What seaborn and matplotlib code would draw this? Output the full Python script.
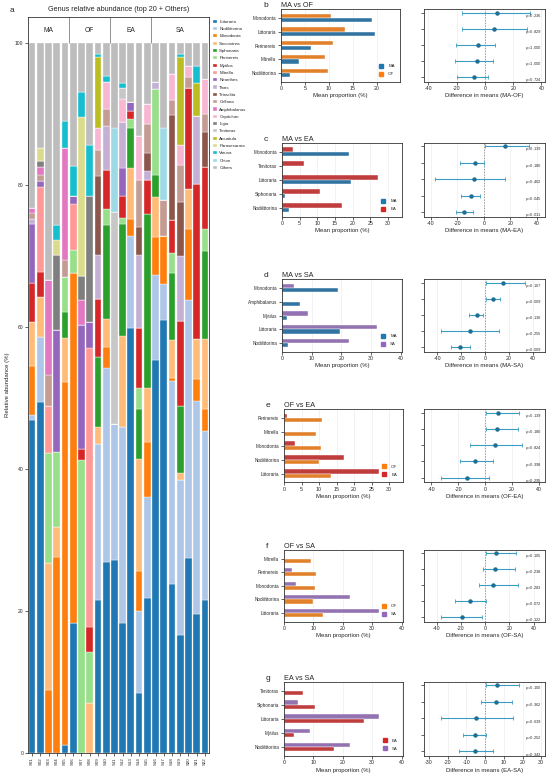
import numpy as np
import pandas as pd
import seaborn as sns
import matplotlib.pyplot as plt
from matplotlib.lines import Line2D

# ---- data: relative abundance (%) per sample, S01..S22 ----
samples = ['S%02d' % i for i in range(1, 23)]
groups = ['MA'] * 5 + ['OF'] * 5 + ['EA'] * 5 + ['SA'] * 7
group_names = ['MA', 'OF', 'EA', 'SA']

littoraria = [46.9, 49.5, 0, 0, 1.1, 18.3, 0, 0, 21.6, 26.9, 27.2, 18.3, 59.9, 8.5, 21.9, 55.4, 61.0, 23.8, 16.6, 27.5, 19.6, 21.6]
nodilittorina = [0.7, 9.1, 0, 0, 0, 0, 0, 0, 21.9, 27.4, 19.1, 27.7, 12.9, 11.5, 14.1, 11.9, 5.1, 28.6, 21.9, 36.3, 30.0, 23.8]
monodonta = [6.9, 0, 8.9, 27.6, 51.2, 49.4, 0, 0, 0, 2.9, 0, 0, 2.4, 5.7, 7.8, 5.4, 6.8, 0.4, 0, 10.1, 3.1, 3.0]
saccostrea = [6.2, 5.6, 17.8, 4.3, 6.2, 0, 0, 7.1, 2.5, 4.0, 0, 12.7, 7.2, 15.7, 7.6, 5.6, 0, 5.4, 1.0, 5.5, 5.6, 10.0]
siphonaria = [0, 0, 0, 0, 3.6, 0, 0, 0, 9.8, 13.2, 0, 15.9, 5.7, 7.1, 24.6, 3.2, 0, 9.4, 9.4, 0, 0, 12.3]
perinereis = [0, 0, 15.5, 10.5, 5.0, 3.2, 41.3, 7.1, 0, 2.3, 0, 0.8, 1.2, 2.9, 0, 12.0, 0, 2.8, 0, 0, 0, 3.2]
mytilus = [5.5, 3.6, 0, 0, 0, 0, 1.6, 3.6, 8.1, 5.4, 0, 3.1, 1.2, 8.5, 4.7, 0, 0, 4.7, 12.0, 14.3, 21.9, 8.7]
mitrella = [0, 12.0, 6.7, 0, 0, 6.5, 0, 39.3, 0, 0, 0, 0, 0, 0, 0, 0, 0, 0, 0, 0, 0, 0]
neanthes = [8.4, 0.8, 0, 17.2, 0, 1.1, 17.4, 3.6, 0, 0, 0, 3.9, 1.2, 0, 0, 0, 0, 0, 0, 0, 0, 0]
thais = [0.7, 0, 0, 0, 0, 0, 0, 0, 6.2, 6.2, 0, 6.5, 0, 10.2, 1.3, 1.0, 0, 0, 9.1, 0, 9.5, 0]
tetraclita = [0, 0, 0, 0, 0, 0, 0, 0, 11.2, 0, 0, 0, 0, 4.0, 2.6, 0, 0, 14.8, 7.6, 0, 0, 4.9]
cellana = [0.8, 0.8, 4.3, 0, 2.3, 0, 0, 0, 3.6, 2.4, 0, 0, 0, 6.6, 4.0, 0, 5.0, 2.1, 5.2, 1.5, 0, 2.5]
amphibalanus = [0.7, 1.2, 13.4, 0, 15.9, 0, 3.5, 0, 0, 0, 0, 0, 0, 0, 0, 0, 0, 0, 0, 0, 0, 0]
capitulum = [0, 0, 0, 0, 0, 0, 0, 0, 3.2, 3.8, 0, 3.2, 0, 6.3, 2.8, 0, 0, 3.7, 2.9, 1.6, 0, 5.0]
ligia = [0, 0.8, 0, 10.5, 0, 0, 3.4, 17.8, 0, 0, 0, 0, 0, 0, 0, 0, 0, 0, 0, 0, 0, 0]
tenitorax = [0, 0, 0, 0, 0, 0, 0, 0, 0, 0, 29.9, 1.6, 0, 0, 0, 0, 0, 0, 0, 0, 0, 0]
arcuatula = [0, 0, 0, 0, 0, 0, 0, 0, 10.0, 0, 0, 0, 0, 0, 0, 0, 0, 0, 12.4, 0, 4.7, 0]
parasesarma = [0, 1.9, 0, 2.2, 0, 0, 22.4, 0, 0, 0, 0, 0, 0, 0, 0, 0, 0, 0, 0, 0, 0, 0]
varuna = [0, 0, 0, 2.1, 3.7, 4.2, 3.5, 7.1, 0.4, 0.9, 0, 0.7, 0, 0, 0, 0, 0, 0, 0.4, 0, 2.4, 0]
chion = [0, 0, 0, 0, 0, 0, 0, 0, 0, 0, 11.9, 0, 0, 0, 0, 0, 10.2, 0, 0, 0, 0, 0]
others = [23.2, 14.7, 33.4, 25.6, 11.0, 17.3, 6.9, 14.4, 1.5, 4.6, 11.9, 5.6, 8.3, 13.0, 8.6, 5.5, 11.9, 4.3, 1.5, 3.2, 3.2, 5.0]

genera = ['Littoraria', 'Nodilittorina', 'Monodonta', 'Saccostrea', 'Siphonaria', 'Perinereis',
          'Mytilus', 'Mitrella', 'Neanthes', 'Thais', 'Tetraclita', 'Cellana', 'Amphibalanus',
          'Capitulum', 'Ligia', 'Tenitorax', 'Arcuatula', 'Parasesarma', 'Varuna', 'Chion', 'Others']
series = [littoraria, nodilittorina, monodonta, saccostrea, siphonaria, perinereis, mytilus,
          mitrella, neanthes, thais, tetraclita, cellana, amphibalanus, capitulum, ligia,
          tenitorax, arcuatula, parasesarma, varuna, chion, others]

# ---- pairwise comparisons: genera shown, CI bounds and p-values ----
comp_b = ('MA', 'OF', ['Monodonta', 'Littoraria', 'Perinereis', 'Mitrella', 'Nodilittorina'])
ci_lo_b = [-15.8, -15.8, -20.7, -21.2, -19.5]
ci_hi_b = [31.8, 29.9, 7.1, 5.9, 1.9]
p_b = ['0.236', '0.829', '1.000', '1.000', '0.724']

comp_c = ('MA', 'EA', ['Monodonta', 'Tenitorax', 'Littoraria', 'Siphonaria', 'Nodilittorina'])
ci_lo_c = [0.8, -18.2, -37.0, -17.5, -21.0]
ci_hi_c = [34.2, 0.3, 16.0, -3.0, -8.5]
p_c = ['0.139', '0.180', '0.402', '0.045', '0.011']

comp_d = ('MA', 'SA', ['Monodonta', 'Amphibalanus', 'Mytilus', 'Littoraria', 'Nodilittorina'])
ci_lo_d = [0.6, 0.6, -13.1, -36.9, -28.5]
ci_hi_d = [33.6, 12.6, -1.4, 12.0, -12.6]
p_d = ['0.167', '0.009', '0.130', '0.255', '0.009']

comp_e = ('OF', 'EA', ['Perinereis', 'Mitrella', 'Monodonta', 'Nodilittorina', 'Littoraria'])
ci_lo_e = [0.5, 0.5, -11.1, -18.6, -32.7]
ci_hi_e = [25.5, 24.8, 27.2, 5.7, 3.2]
p_e = ['0.139', '0.180', '0.824', '0.398', '0.295']

comp_f = ('OF', 'SA', ['Mitrella', 'Perinereis', 'Monodonta', 'Nodilittorina', 'Littoraria'])
ci_lo_f = [0.5, -1.9, -4.9, -24.7, -36.2]
ci_hi_f = [25.5, 24.7, 26.8, 0.5, -2.7]
p_f = ['0.105', '0.238', '0.283', '0.072', '0.122']

comp_g = ('EA', 'SA', ['Tenitorax', 'Siphonaria', 'Littoraria', 'Mytilus', 'Nodilittorina'])
ci_lo_g = [0.4, -2.1, -23.5, -11.6, -13.7]
ci_hi_g = [18.3, 14.6, 15.1, 0.4, 4.1]
p_g = ['0.100', '0.362', '0.639', '0.252', '0.343']

group_colors = {'MA': '#1f77b4', 'OF': '#ff7f0e', 'EA': '#d62728', 'SA': '#9467bd'}

# ---- style ----
sns.set_theme(style='ticks')
plt.rcParams['font.family'] = ['Liberation Sans', 'DejaVu Sans']
plt.rcParams['mathtext.fontset'] = 'custom'
plt.rcParams['mathtext.it'] = 'Liberation Sans:italic'
plt.rcParams['mathtext.rm'] = 'Liberation Sans'
plt.rcParams['axes.edgecolor'] = '#333333'
plt.rcParams['axes.linewidth'] = 0.6
plt.rcParams['xtick.major.width'] = 0.5
plt.rcParams['ytick.major.width'] = 0.5
plt.rcParams['xtick.major.size'] = 2
plt.rcParams['ytick.major.size'] = 2
plt.rcParams['xtick.major.pad'] = 1.2
plt.rcParams['ytick.major.pad'] = 1.5

abund = pd.DataFrame(dict(zip(genera, series)), index=samples)
abund['group'] = groups
means = abund.groupby('group')[genera].mean()

W, H = 550, 774
fig = plt.figure(figsize=(W / 100, H / 100), dpi=100)


def px_axes(x0, y0, x1, y1):
    return fig.add_axes([x0 / W, 1 - y1 / H, (x1 - x0) / W, (y1 - y0) / H])


# ---- panel a: stacked bars ----
ax = px_axes(28, 17, 209, 753)
pal = sns.color_palette('tab20', 20).as_hex() + ['#bdbdbd']
x = np.arange(len(samples))
bottom = np.zeros(len(samples))
for name, vals, col in zip(genera, series, pal):
    vals = np.array(vals, dtype=float)
    ax.bar(x, vals, bottom=bottom, width=0.82, color=col, edgecolor='white',
           linewidth=0.25, label=name)
    bottom += vals

ymax = 103.7
ax.set_xlim(-0.5, len(samples) - 0.5)
ax.set_ylim(0, ymax)
ax.set_yticks([0, 20, 40, 60, 80, 100])
ax.set_yticklabels(['0', '20', '40', '60', '80', '100'], fontsize=3.6)
ax.set_xticks(x)
ax.set_xticklabels(samples, rotation=90, fontsize=3.2)
ax.set_ylabel('Relative abundance (%)', fontsize=4.3, labelpad=3)
ax.set_title('Genus relative abundance (top 20 + Others)', fontsize=5.2, pad=4)

# group header
starts = [0, 5, 10, 15]
ends = [4, 9, 14, 21]
for g, s, e in zip(group_names, starts, ends):
    ax.text((s + e) / 2, 101.85, g, ha='center', va='center', fontsize=4.8)
ax.vlines([4.5, 9.5, 14.5], 100, ymax, color='#666666', lw=0.5)

leg = ax.legend(loc='upper left', bbox_to_anchor=(1.01, 1.0), frameon=False,
                fontsize=3.2, handlelength=0.7, handleheight=0.7, handletextpad=0.6,
                labelspacing=0.72, borderaxespad=0.2)
fig.text(10 / W, 1 - 11 / H, 'a', fontsize=6, ha='left', va='center')


# ---- panels b-g ----
def draw_pair(bar_box, ci_box, comp, ci_lo, ci_hi, pvals, letter, bar_xmax, bar_ticks,
              ci_xlim, ci_ticks):
    g1, g2, taxa = comp
    bax = px_axes(*bar_box)
    cax = px_axes(*ci_box)

    rows = []
    for t in taxa:
        for g in (g1, g2):
            rows.append({'genus': t, 'group': g, 'value': means.loc[g, t]})
    df = pd.DataFrame(rows)
    sns.barplot(data=df, y='genus', x='value', hue='group', order=taxa,
                hue_order=[g2, g1], palette=group_colors, orient='h', width=0.62,
                errorbar=None, legend=False, edgecolor='white', linewidth=0.3, ax=bax)
    bax.set_ylim(len(taxa) - 1 + 0.63, -0.63)
    bax.set_xlim(0, bar_xmax)
    bax.set_xticks(bar_ticks)
    bax.set_xticklabels([str(t) for t in bar_ticks], fontsize=3.8)
    bax.tick_params(axis='y', labelsize=3.3)
    bax.set_ylabel('')
    bax.set_xlabel('Mean proportion (%)', fontsize=4.3, labelpad=1.5)
    bax.grid(axis='x', color='#e8e8e8', lw=0.4)
    bax.set_axisbelow(True)
    bax.set_title(f'{g1} vs {g2}', loc='left', fontsize=5.2, pad=1.5)
    handles = [Line2D([], [], marker='s', ls='', color=group_colors[g], markersize=2.2,
                      label=g) for g in (g1, g2)]
    bax.legend(handles=handles, loc='lower right', frameon=False, fontsize=3.2,
               handletextpad=0.6, labelspacing=0.9, borderaxespad=0.8)
    x0, y0 = bar_box[0], bar_box[1]
    fig.text((x0 - 18) / W, 1 - (y0 - 3.5) / H, letter, fontsize=6, ha='left', va='center')

    diff = [means.loc[g1, t] - means.loc[g2, t] for t in taxa]
    ypos = np.arange(len(taxa))
    err = [np.array(diff) - np.array(ci_lo), np.array(ci_hi) - np.array(diff)]
    cax.axvline(0, color='#777777', ls=(0, (2, 2)), lw=0.5, zorder=1)
    cax.errorbar(diff, ypos, xerr=err, fmt='o', color='#1f6f94', ecolor='#3c9dc4',
                 elinewidth=0.8, capsize=1.6, capthick=0.6, markersize=2.2, zorder=3)
    for yy, p in zip(ypos, pvals):
        cax.text(0.975, yy + 0.2, r'$p$=' + p, transform=cax.get_yaxis_transform(),
                 ha='right', va='center', fontsize=3.0, color='#333333')
    cax.set_ylim(len(taxa) - 1 + 0.28, -0.2)
    cax.set_yticks(ypos)
    cax.set_yticklabels([])
    cax.set_xlim(*ci_xlim)
    cax.set_xticks(ci_ticks)
    cax.set_xticklabels([str(t) for t in ci_ticks], fontsize=3.8)
    cax.grid(axis='x', color='#e8e8e8', lw=0.4)
    cax.set_axisbelow(True)
    cax.set_xlabel(f'Difference in means ({g1}-{g2})', fontsize=4.3, labelpad=1.5)


draw_pair((281, 9.3, 400, 81.7), (424, 9.3, 545, 81.7), comp_b, ci_lo_b, ci_hi_b, p_b, 'b',
          24.8, [0, 5, 10, 15, 20], (-43, 42.5), [-40, -20, 0, 20, 40])
draw_pair((282, 142.7, 402, 216.7), (424, 142.7, 545, 216.7), comp_c, ci_lo_c, ci_hi_c, p_c, 'c',
          34, [0, 5, 10, 15, 20, 25, 30], (-45, 46), [-40, -20, 0, 20, 40])
draw_pair((282, 279.3, 402, 351.7), (424, 279.3, 545, 351.7), comp_d, ci_lo_d, ci_hi_d, p_d, 'd',
          40.5, [0, 10, 20, 30, 40], (-51, 50), [-40, -20, 0, 20, 40])
draw_pair((284, 409.3, 402.7, 482.3), (424, 409.3, 545, 482.3), comp_e, ci_lo_e, ci_hi_e, p_e, 'e',
          33.9, [0, 5, 10, 15, 20, 25, 30], (-45.5, 44.6), [-40, -20, 0, 20, 40])
draw_pair((284, 550, 402.7, 621.7), (424, 550, 545, 621.7), comp_f, ci_lo_f, ci_hi_f, p_f, 'f',
          40.4, [0, 10, 20, 30, 40], (-50.4, 49.3), [-40, -20, 0, 20, 40])
draw_pair((284, 681.7, 402.7, 756), (424, 681.7, 545, 756), comp_g, ci_lo_g, ci_hi_g, p_g, 'g',
          40.4, [0, 10, 20, 30, 40], (-32.6, 32), [-30, -20, -10, 0, 10, 20, 30])

fig.savefig('out.png', dpi=100)
